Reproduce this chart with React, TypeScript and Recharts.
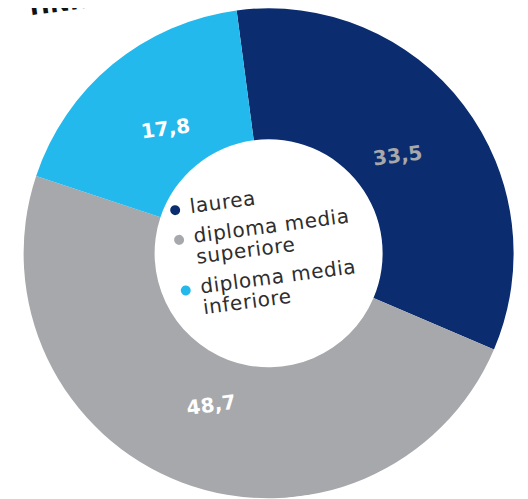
import React from "react";
import { PieChart, Pie, Cell } from "recharts";

const categories = ["laurea", "diploma media superiore", "diploma media inferiore"];
const legendLines = [["laurea"], ["diploma media", "superiore"], ["diploma media", "inferiore"]];
const values = [33.5, 48.7, 17.8];
const valueLabels = ["33,5", "48,7", "17,8"];
const colors = ["#0b2d6f", "#a7a8ab", "#23b9ec"];
const labelColors = ["#a7a8ab", "#ffffff", "#ffffff"];
const titleText = "HNN";

const data = categories.map((name, i) => ({ name, value: values[i], label: valueLabels[i] }));

const RAD = Math.PI / 180;

const renderLabel = (props: any) => {
  const { cx, cy, midAngle, index } = props;
  const r = 162;
  const x = cx + r * Math.cos(-midAngle * RAD);
  const y = cy + r * Math.sin(-midAngle * RAD);
  return (
    <text
      x={x}
      y={y}
      fill={labelColors[index]}
      textAnchor="middle"
      dominantBaseline="central"
      fontFamily="DejaVu Sans"
      fontWeight="bold"
      fontSize={20}
    >
      {valueLabels[index]}
    </text>
  );
};

export default function App() {
  return (
    <div style={{ position: "relative", width: 528, height: 499, margin: "-8px 0 0 -8px", overflow: "hidden", background: "#fff" }}>
      <div
        style={{
          position: "absolute",
          left: 0,
          top: 0,
          width: 528,
          height: 499,
          transform: "rotate(-7.5deg)",
          transformOrigin: "263px 249px",
        }}
      >
        <div
          style={{
            position: "absolute",
            left: 63,
            top: -35,
            fontFamily: "DejaVu Sans",
            fontWeight: "bold",
            fontSize: 24,
            color: "#111",
            whiteSpace: "nowrap",
          }}
        >
          {titleText}
        </div>
        <PieChart width={528} height={499}>
          <Pie
            data={data}
            dataKey="value"
            cx={263}
            cy={249}
            innerRadius={114}
            outerRadius={245}
            startAngle={90}
            endAngle={-270}
            stroke="none"
            label={renderLabel}
            labelLine={false}
            isAnimationActive={false}
          >
            {data.map((d, i) => (
              <Cell key={d.name} fill={colors[i]} />
            ))}
          </Pie>
        </PieChart>
        <div
          style={{
            position: "absolute",
            left: 176,
            top: 187,
            fontFamily: "DejaVu Sans",
            fontSize: 20,
            letterSpacing: 0.6,
            lineHeight: "21px",
            color: "#2e2e2e",
          }}
        >
          {legendLines.map((lines, i) => (
            <div key={i} style={{ display: "flex", alignItems: "flex-start", marginBottom: 9 }}>
              <span
                style={{
                  display: "inline-block",
                  flex: "none",
                  width: 10,
                  height: 10,
                  borderRadius: 5,
                  background: colors[i],
                  marginTop: 7,
                  marginRight: 10,
                }}
              />
              <div>
                {lines.map((l, j) => (
                  <div key={j}>{l}</div>
                ))}
              </div>
            </div>
          ))}
        </div>
      </div>
    </div>
  );
}
